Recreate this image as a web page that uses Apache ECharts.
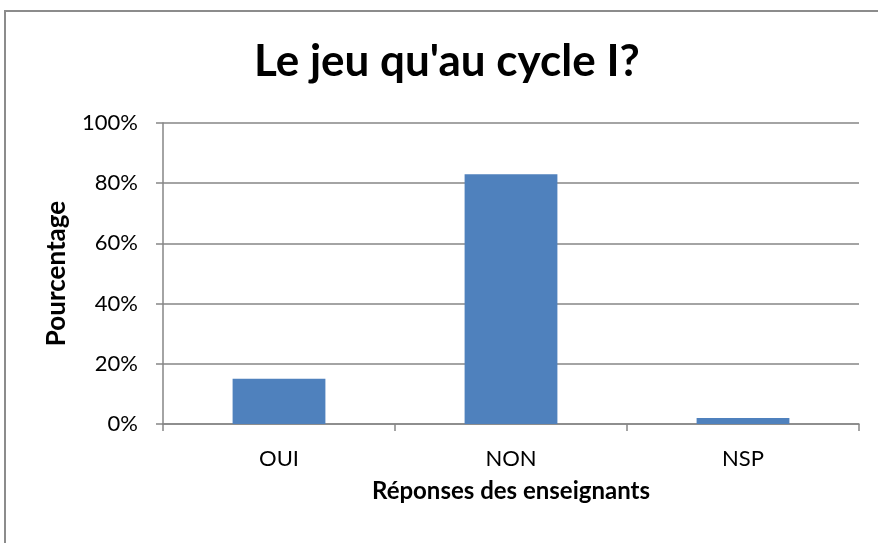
<!DOCTYPE html>
<html><head><meta charset="utf-8">
<script src="https://cdn.jsdelivr.net/npm/echarts@6/dist/echarts.min.js"></script>
<style>html,body{margin:0;padding:0;background:#fff}#c{width:878px;height:543px}</style>
</head><body><div id="c"></div>
<script>
const categories = ['OUI', 'NON', 'NSP'];
const values = [15, 83, 2];
const yTicks = [0, 20, 40, 60, 80, 100];
const titleText = "Le jeu qu'au cycle I?";
const xName = 'Réponses des enseignants';
const yName = 'Pourcentage';

const font = 'Lato, Calibri, "Open Sans", sans-serif';
const chart = echarts.init(document.getElementById('c'), null, {renderer: 'canvas'});
chart.setOption({
  animation: false,
  backgroundColor: '#fff',
  title: {text: titleText, left: 249, top: 35,
    textStyle: {fontFamily: font, fontWeight: 'bold', fontSize: 44, color: '#000'}},
  graphic: [{type: 'rect', shape: {x: 5, y: 11, width: 1000, height: 1000},
    style: {fill: 'none', stroke: '#8c8c8c', lineWidth: 2}, silent: true}],
  grid: {left: 163, right: 19, top: 123, bottom: 119, containLabel: false},
  xAxis: {type: 'category', data: categories,
    name: xName, nameLocation: 'middle', nameGap: 55,
    nameTextStyle: {fontFamily: font, fontWeight: 'bold', fontSize: 24, color: '#000'},
    axisLine: {lineStyle: {color: '#868686', width: 1.5}},
    axisTick: {show: true, length: 7, lineStyle: {color: '#868686', width: 1.5}},
    axisLabel: {fontFamily: font, fontSize: 22, color: '#000', margin: 24}},
  yAxis: {type: 'value', min: 0, max: 100, interval: 20,
    name: yName, nameLocation: 'middle', nameGap: 93, nameRotate: 90,
    nameTextStyle: {fontFamily: font, fontWeight: 'bold', fontSize: 26, color: '#000'},
    axisLine: {show: true, lineStyle: {color: '#868686', width: 1.5}},
    axisTick: {show: true, length: 7, lineStyle: {color: '#868686', width: 1.5}},
    splitLine: {lineStyle: {color: '#868686', width: 1.5}},
    axisLabel: {fontFamily: font, fontSize: 22, color: '#000', margin: 25,
      formatter: v => yTicks.includes(v) ? v + '%' : ''}},
  series: [{type: 'bar', data: values, barWidth: '40%',
    itemStyle: {color: '#4F81BD'}}]
});
</script></body></html>
